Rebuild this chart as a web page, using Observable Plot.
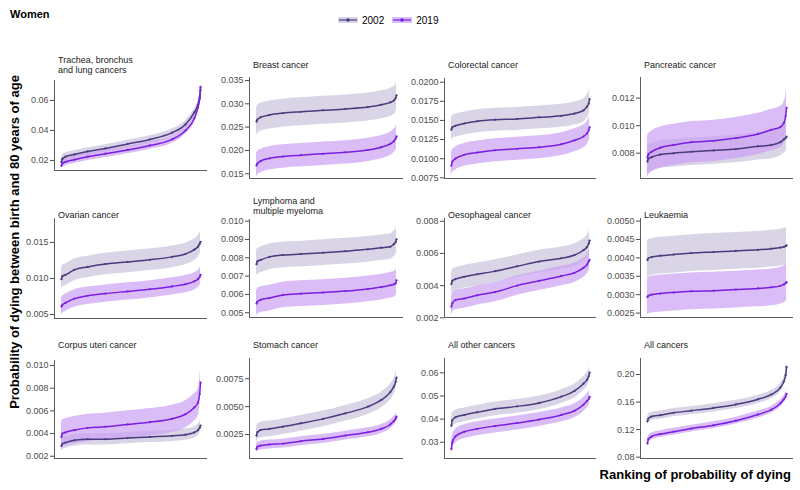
<!DOCTYPE html>
<html><head><meta charset="utf-8">
<script src="https://cdn.jsdelivr.net/npm/d3@7"></script>
<script src="https://cdn.jsdelivr.net/npm/@observablehq/plot@0.6"></script>
<style>
body{margin:0;background:#fff;font-family:"Liberation Sans",Arial,sans-serif;}
#chart{position:relative;width:800px;height:490px;overflow:hidden;background:#fff;}
.abs{position:absolute;}
.ptitle{position:absolute;font-size:9px;line-height:10px;color:#1a1a1a;white-space:pre;}
</style></head><body><div id="chart"></div>
<script>
// ---- data ----
const ranks = [1, 3, 10, 30, 60, 100, 150, 200, 250, 280, 300, 308, 312, 314];
const years = ["2002", "2019"];

const titles = ["Trachea, bronchus\nand lung cancers", "Breast cancer", "Colorectal cancer", "Pancreatic cancer",
  "Ovarian cancer", "Lymphoma and\nmultiple myeloma", "Oesophageal cancer", "Leukaemia",
  "Corpus uteri cancer", "Stomach cancer", "All other cancers", "All cancers"];

const lung2002 = [0.019, 0.021, 0.0225, 0.024, 0.026, 0.028, 0.031, 0.034, 0.0385, 0.044, 0.052, 0.057, 0.062, 0.067];
const lung2019 = [0.0165, 0.018, 0.019, 0.0205, 0.0225, 0.0245, 0.027, 0.030, 0.034, 0.040, 0.048, 0.055, 0.061, 0.069];
const breast2002 = [0.0262, 0.0266, 0.0271, 0.0276, 0.0280, 0.0283, 0.0286, 0.0289, 0.0293, 0.0298, 0.0303, 0.0307, 0.0312, 0.0318];
const breast2019 = [0.0168, 0.0172, 0.0177, 0.0183, 0.0187, 0.0190, 0.0193, 0.0196, 0.0201, 0.0207, 0.0214, 0.0220, 0.0225, 0.0230];
const colorectal2002 = [0.0138, 0.0141, 0.0143, 0.0146, 0.0149, 0.0151, 0.0152, 0.0154, 0.0156, 0.0159, 0.0163, 0.0168, 0.0172, 0.0178];
const colorectal2019 = [0.0091, 0.0096, 0.0100, 0.0105, 0.0108, 0.0111, 0.0113, 0.0115, 0.0119, 0.0124, 0.0129, 0.0133, 0.0137, 0.0141];
const pancreatic2002 = [0.0074, 0.0076, 0.0077, 0.0079, 0.0080, 0.0081, 0.0082, 0.0083, 0.0085, 0.0086, 0.0088, 0.0090, 0.0091, 0.0092];
const pancreatic2019 = [0.0077, 0.0079, 0.0081, 0.0084, 0.0086, 0.0088, 0.0089, 0.0091, 0.0094, 0.0097, 0.0099, 0.0102, 0.0107, 0.0113];
const ovarian2002 = [0.0099, 0.0103, 0.0105, 0.0112, 0.0116, 0.0120, 0.0123, 0.0126, 0.0130, 0.0134, 0.0140, 0.0144, 0.0148, 0.0151];
const ovarian2019 = [0.0061, 0.0063, 0.0066, 0.0072, 0.0076, 0.0079, 0.0082, 0.0085, 0.0089, 0.0092, 0.0096, 0.0099, 0.0102, 0.0105];
const lymphoma2002 = [0.00765, 0.0078, 0.00788, 0.00805, 0.00815, 0.0082, 0.00828, 0.00836, 0.00846, 0.00855, 0.0086, 0.00875, 0.00885, 0.0090];
const lymphoma2019 = [0.0055, 0.0056, 0.0057, 0.0058, 0.00597, 0.00604, 0.0061, 0.00618, 0.0063, 0.0064, 0.0065, 0.00655, 0.0066, 0.00677];
const oesophageal2002 = [0.0041, 0.0043, 0.0044, 0.00455, 0.0047, 0.0049, 0.0052, 0.0055, 0.0057, 0.0059, 0.0062, 0.0064, 0.0066, 0.0068];
const oesophageal2019 = [0.0027, 0.0029, 0.0031, 0.0032, 0.0034, 0.0036, 0.0040, 0.0043, 0.0046, 0.0048, 0.0051, 0.0053, 0.0055, 0.0056];
const leukaemia2002 = [0.00394, 0.00399, 0.00402, 0.00406, 0.00409, 0.00413, 0.00416, 0.00419, 0.00422, 0.00425, 0.00428, 0.0043, 0.00432, 0.00434];
const leukaemia2019 = [0.00294, 0.00297, 0.0030, 0.00303, 0.00306, 0.00309, 0.00311, 0.00314, 0.00317, 0.0032, 0.00324, 0.00328, 0.00331, 0.00334];
const corpus2002 = [0.0029, 0.0031, 0.0032, 0.0034, 0.0035, 0.0035, 0.0036, 0.0037, 0.0038, 0.0039, 0.0041, 0.0043, 0.0045, 0.0047];
const corpus2019 = [0.0037, 0.0040, 0.0041, 0.0043, 0.0045, 0.0046, 0.0048, 0.0050, 0.0053, 0.0057, 0.0063, 0.0067, 0.0075, 0.0085];
const stomach2002 = [0.0024, 0.0027, 0.0029, 0.0030, 0.0032, 0.0035, 0.0039, 0.0044, 0.0050, 0.0056, 0.0063, 0.0068, 0.0072, 0.0076];
const stomach2019 = [0.0012, 0.0014, 0.0015, 0.0016, 0.00168, 0.0019, 0.0021, 0.0024, 0.0027, 0.0030, 0.0034, 0.0037, 0.0039, 0.0041];
const other2002 = [0.0372, 0.0395, 0.0408, 0.0418, 0.0430, 0.0444, 0.0455, 0.0470, 0.0497, 0.0522, 0.0553, 0.0570, 0.0585, 0.0601];
const other2019 = [0.0271, 0.0300, 0.0325, 0.0345, 0.0358, 0.0370, 0.0383, 0.0398, 0.0418, 0.0436, 0.0462, 0.0478, 0.0487, 0.0496];
const all2002 = [0.132, 0.136, 0.139, 0.141, 0.1445, 0.1475, 0.1515, 0.1565, 0.164, 0.171, 0.181, 0.190, 0.199, 0.211];
const all2019 = [0.100, 0.106, 0.110, 0.1135, 0.117, 0.1215, 0.1265, 0.133, 0.142, 0.149, 0.158, 0.164, 0.168, 0.172];

// half-width of the uncertainty band around each series, per panel [2002, 2019]
const bandWidths = [[0.0025, 0.0025], [0.0030, 0.0025], [0.0015, 0.0015], [0.0010, 0.0015],
  [0.0015, 0.0012], [0.0007, 0.0007], [0.0007, 0.0006], [0.0005, 0.0005],
  [0.0005, 0.0012], [0.0007, 0.0004], [0.0030, 0.0030], [0.0060, 0.0050]];

// y tick labels per panel
const tickLabels = [
  ["0.02", "0.04", "0.06"], ["0.015", "0.020", "0.025", "0.030", "0.035"],
  ["0.0075", "0.0100", "0.0125", "0.0150", "0.0175", "0.0200"], ["0.008", "0.010", "0.012"],
  ["0.005", "0.010", "0.015"], ["0.005", "0.006", "0.007", "0.008", "0.009", "0.010"],
  ["0.002", "0.004", "0.006", "0.008"], ["0.0025", "0.0030", "0.0035", "0.0040", "0.0045", "0.0050"],
  ["0.002", "0.004", "0.006", "0.008", "0.010"], ["0.0025", "0.0050", "0.0075"],
  ["0.03", "0.04", "0.05", "0.06"], ["0.08", "0.12", "0.16", "0.20"]];

const series = [[lung2002, lung2019], [breast2002, breast2019], [colorectal2002, colorectal2019], [pancreatic2002, pancreatic2019],
  [ovarian2002, ovarian2019], [lymphoma2002, lymphoma2019], [oesophageal2002, oesophageal2019], [leukaemia2002, leukaemia2019],
  [corpus2002, corpus2019], [stomach2002, stomach2019], [other2002, other2019], [all2002, all2019]];

// ---- layout ----
const yDomains = [[0.0133, 0.0733], [0.01399, 0.03564], [0.00741, 0.02048], [0.00616, 0.0135],
  [0.00444, 0.01833], [0.00474, 0.01009], [0.00202, 0.00817], [0.00238, 0.00507],
  [0.0018, 0.01044], [0.000345, 0.00932], [0.02296, 0.0662], [0.0781, 0.2232]];
const colX = [[54, 207], [249, 403], [444, 596], [640, 793]];
const frameY = [[80, 170], [77, 178], [78, 178], [77, 178],
  [218, 318], [219, 317], [218, 317], [218, 317],
  [360, 458], [358, 458], [358, 458], [358, 458]];
const titleTop = [[55, 60, 60, 60], [210, 196, 210, 210], [340, 340, 340, 340]];

const colors = {
  line: {"2002": "#4a3a7e", "2019": "#7a1fe0"},
  band: {"2002": "#c9c2dc", "2019": "#caa0f4"}
};

const chart = document.getElementById("chart");
function addDiv(cls, style, text) {
  const d = document.createElement("div");
  d.className = cls; Object.assign(d.style, style); d.textContent = text; chart.appendChild(d); return d;
}

// title
addDiv("abs", {left: "10px", top: "8px", fontSize: "11px", fontWeight: "bold", color: "#000"}, "Women");

// legend
const leg = document.createElement("div");
leg.className = "abs";
Object.assign(leg.style, {left: "338px", top: "14px", display: "flex", alignItems: "center", fontSize: "10px", color: "#000"});
years.forEach(y => {
  const item = document.createElement("div");
  Object.assign(item.style, {display: "flex", alignItems: "center", marginRight: "8px"});
  item.innerHTML = `<svg width="20" height="12"><rect x="0" y="3" width="20" height="6" fill="${colors.band[y]}" opacity="0.7"/><line x1="1" x2="19" y1="6" y2="6" stroke="${colors.line[y]}" stroke-width="1.2"/><circle cx="10" cy="6" r="1.8" fill="${colors.line[y]}"/></svg><span style="margin-left:4px">${y}</span>`;
  leg.appendChild(item);
});
chart.appendChild(leg);

// axis titles
addDiv("abs", {left: "14px", top: "242px", transform: "translate(-50%,-50%) rotate(-90deg)", fontSize: "13px",
  fontWeight: "bold", whiteSpace: "nowrap", color: "#000"}, "Probability of dying between birth and 80 years of age");
addDiv("abs", {right: "9px", top: "467px", fontSize: "13px", fontWeight: "bold", whiteSpace: "nowrap", color: "#000"},
  "Ranking of probability of dying");

const n = ranks[ranks.length - 1];
const pad = 0.05 * (n - 1);
const xDomain = [1 - pad, n + pad];

titles.forEach((title, i) => {
  const col = i % 4, row = Math.floor(i / 4);
  const [L, R] = colX[col];
  const [T, B] = frameY[i];
  const mL = 44, mR = 2, mT = 2, mB = 2;
  const ticks = tickLabels[i].map(Number);
  const digits = tickLabels[i][0].split(".")[1].length;
  const rows = [];
  years.forEach((y, k) => {
    series[i][k].forEach((v, j) => rows.push({year: y, rank: ranks[j], v, lo: v - bandWidths[i][k], hi: v + bandWidths[i][k]}));
  });
  const marks = [];
  years.forEach(y => {
    const d = rows.filter(r => r.year === y);
    marks.push(Plot.areaY(d, {x: "rank", y1: "lo", y2: "hi", fill: colors.band[y], fillOpacity: 0.7, curve: "monotone-x"}));
  });
  years.forEach(y => {
    const d = rows.filter(r => r.year === y);
    marks.push(Plot.line(d, {x: "rank", y: "v", stroke: colors.line[y], strokeWidth: 1.5, curve: "monotone-x"}));
    marks.push(Plot.dot(d, {x: "rank", y: "v", fill: colors.line[y], r: 1.1}));
  });
  marks.push(Plot.ruleX([xDomain[0]], {stroke: "#333", strokeWidth: 0.8}));
  marks.push(Plot.ruleY([yDomains[i][0]], {stroke: "#333", strokeWidth: 0.8}));
  marks.push(Plot.axisY({ticks, tickFormat: d => d.toFixed(digits), tickSize: 4, tickPadding: 2, fontSize: 9, color: "#4d4d4d"}));
  const svg = Plot.plot({
    width: (R - L) + mL + mR, height: (B - T) + mT + mB,
    marginLeft: mL, marginRight: mR, marginTop: mT, marginBottom: mB,
    x: {domain: xDomain, axis: null},
    y: {domain: yDomains[i], axis: null},
    style: {fontFamily: "'Liberation Sans', Arial, sans-serif", background: "transparent", overflow: "visible"},
    marks
  });
  svg.style.position = "absolute";
  svg.style.left = (L - mL) + "px";
  svg.style.top = (T - mT) + "px";
  chart.appendChild(svg);
  addDiv("ptitle", {left: (L + 4) + "px", top: titleTop[row][col] + "px"}, title);
});
</script></body></html>
